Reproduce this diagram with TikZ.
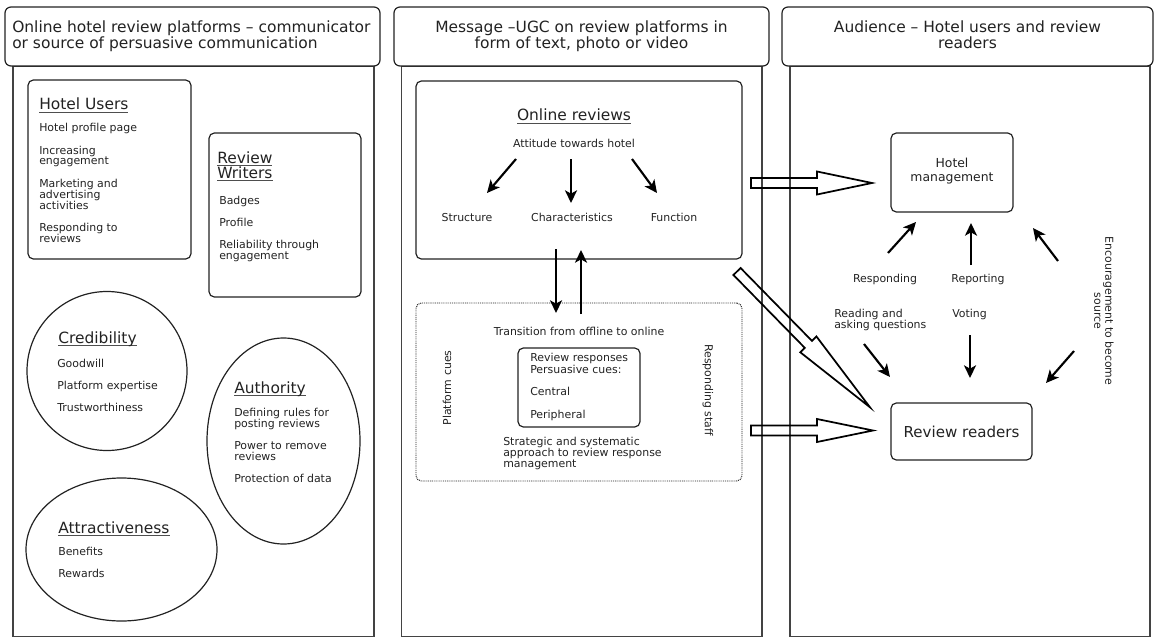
\documentclass[tikz,border=0pt]{standalone}
\usepackage{fontspec}
\setmainfont{DejaVu Sans}
\usetikzlibrary{arrows.meta,shapes.geometric,fit}
\definecolor{ink}{HTML}{222222}
\newcommand\myul[1]{\setbox0\hbox{#1}\rlap{\color{ink!80}\rule[-2.4pt]{\wd0}{0.75pt}}\box0}
\newcommand\hollowarrow[5]{%
  \draw[harrow, shift={(#1)}, rotate=#2] (0,-5) -- ({#3-#4},-5) -- ({#3-#4},-#5) -- (#3,0) -- ({#3-#4},#5) -- ({#3-#4},5) -- (0,5) -- cycle;}
\begin{document}
\begin{tikzpicture}[x=0.75pt,y=-0.75pt,
  every node/.style={text=ink},
  col/.style={draw=ink!85, line width=1.1pt},
  hdr/.style={draw=ink, line width=0.9pt, rounded corners=4.5pt, fill=white, inner sep=0pt},
  hdrtxt/.style={inner sep=0pt, font=\fontsize{11.6}{12}\selectfont},
  box/.style={draw=ink, line width=0.9pt, rounded corners=4pt, inner sep=0pt},
  dotbox/.style={draw=ink, line width=0.7pt, dash pattern=on 0.7pt off 0.7pt, rounded corners=4pt, inner sep=0pt},
  oval/.style={draw=ink, line width=0.9pt, ellipse, inner sep=0pt},
  ttl/.style={anchor=base west, inner sep=0pt, font=\fontsize{11.6}{11.25}\selectfont, align=left},
  itm/.style={anchor=base west, inner sep=0pt, font=\fontsize{8.2}{8.25}\selectfont, align=left},
  lbl/.style={anchor=base, inner sep=0pt, font=\fontsize{8.2}{8.25}\selectfont, align=center},
  rot/.style={inner sep=0pt, font=\fontsize{8.2}{8.25}\selectfont, align=center},
  conn/.style={draw=black, line width=1.6pt, -{Stealth[length=9.5pt,width=9pt,inset=2.5pt]}},
  harrow/.style={draw=black, line width=1.3pt, line join=miter}]
\useasboundingbox (0,0) rectangle (1155,638);

% ---------- column bodies ----------
\draw[col] (13,66) rectangle (374,636.5);
\draw[col] (401.5,66) rectangle (762,636.5);
\draw[col] (790,66) rectangle (1150,636.5);

% ---------- headers ----------
\node[hdr, fit={(5,7) (380,66)}] (h1) {};
\node[hdrtxt, anchor=base west, align=left] (h1t) at (12,49) {Online hotel review platforms -- communicator\\or source of persuasive communication};
\node[hdr, fit={(394,7) (769,66)}] (h2) {};
\node[hdrtxt, anchor=base, align=center] (h2t) at (581.5,49) {Message --UGC on review platforms in\\form of text, photo or video};
\node[hdr, fit={(782,7) (1153,66)}] (h3) {};
\node[hdrtxt, anchor=base, align=center] (h3t) at (967.5,49) {Audience -- Hotel users and review\\readers};

% ---------- column 1 ----------
\node[box, fit={(28,80) (191,259)}] (hu) {};
\node[ttl] (hut) at (39,110) {\myul{Hotel Users}};
\node[itm] (hu1) at (39,132) {Hotel profile page};
\node[itm] (hu2) at (39,165) {Increasing\\engagement};
\node[itm] (hu3) at (39,209) {Marketing and\\advertising\\activities};
\node[itm] (hu4) at (39,242) {Responding to\\reviews};

\node[box, fit={(209,133) (361,297)}] (rw) {};
\node[ttl] (rwt) at (217,178) {\myul{Review}\\\myul{Writers}};
\node[itm] (rw1) at (219,204) {Badges};
\node[itm] (rw2) at (219,226) {Profile};
\node[itm] (rw3) at (219,259) {Reliability through\\engagement};

\node[oval, minimum width=120pt, minimum height=119.25pt] (cr) at (107,371) {};
\node[ttl] (crt) at (58,343) {\myul{Credibility}};
\node[itm] (cr1) at (57,367) {Goodwill};
\node[itm] (cr2) at (57,389) {Platform expertise};
\node[itm] (cr3) at (57,411) {Trustworthiness};

\node[oval, minimum width=114.75pt, minimum height=154.5pt] (au) at (283.5,441) {};
\node[ttl] (aut) at (234,393) {\myul{Authority}};
\node[itm] (au1) at (234,427) {Defining rules for\\posting reviews};
\node[itm] (au2) at (234,460) {Power to remove\\reviews};
\node[itm] (au3) at (234,482) {Protection of data};

\node[oval, minimum width=143.25pt, minimum height=107.25pt] (at) at (121.5,549.5) {};
\node[ttl] (att) at (58,533) {\myul{Attractiveness}};
\node[itm] (at1) at (58,555) {Benefits};
\node[itm] (at2) at (58,577) {Rewards};

% ---------- column 2 ----------
\node[box, fit={(416,81) (742,259)}] (or) {};
\node[lbl, font=\fontsize{11.6}{12}\selectfont] (ort) at (574,121) {\myul{Online reviews}};
\node[lbl] (att2) at (574,147) {Attitude towards hotel};
\node[lbl] (st) at (467,221) {Structure};
\node[lbl] (ch) at (572,221) {Characteristics};
\node[lbl] (fn) at (674,221) {Function};
\coordinate (a1s) at (516,159); \coordinate (a1e) at (487,193);
\coordinate (a2s) at (571,159); \coordinate (a2e) at (571,203);
\coordinate (a3s) at (632,159); \coordinate (a3e) at (657,193);
\draw[conn] (a1s) -- (a1e);
\draw[conn] (a2s) -- (a2e);
\draw[conn] (a3s) -- (a3e);

\node[dotbox, fit={(416,303) (742,481)}] (pc) {};
\coordinate (d1s) at (556,249); \coordinate (d1e) at (556,313);
\coordinate (u1s) at (581,314); \coordinate (u1e) at (581,250);
\draw[conn] (d1s) -- (d1e);
\draw[conn] (u1s) -- (u1e);
\node[lbl] (tr) at (579,335) {Transition from offline to online};
\node[box, fit={(518,348) (640,427)}] (rr) {};
\node[itm, font=\fontsize{8.2}{7.6}\selectfont] (rr1) at (530,373) {Review responses\\Persuasive cues:};
\node[itm] (rr2) at (530,395) {Central};
\node[itm] (rr3) at (530,418) {Peripheral};
\node[rot, rotate=90] (plc) at (447,388) {Platform cues};
\node[rot, rotate=-90] (rs) at (708,390) {Responding staff};
\node[itm] (sa) at (503,467) {Strategic and systematic\\approach to review response\\management};

% ---------- column 3 ----------
\node[box, fit={(891,133) (1013,212)}] (hm) {};
\node[anchor=base, inner sep=0pt, font=\fontsize{9.3}{10}\selectfont, align=center] (hmt) at (952,181) {Hotel\\management};
\node[box, fit={(891,403) (1032,460)}] (rd) {};
\node[anchor=base, inner sep=0pt, font=\fontsize{11.3}{12}\selectfont] (rdt) at (961.5,437) {Review readers};

\coordinate (b1s) at (888,253); \coordinate (b1e) at (916,222);
\coordinate (b2s) at (971,265); \coordinate (b2e) at (971,223);
\coordinate (b3s) at (1058,261); \coordinate (b3e) at (1033,228);
\coordinate (b4s) at (864,344); \coordinate (b4e) at (890,377);
\coordinate (b5s) at (970,335); \coordinate (b5e) at (970,378);
\coordinate (b6s) at (1074,351); \coordinate (b6e) at (1046,383);
\draw[conn] (b1s) -- (b1e);
\draw[conn] (b2s) -- (b2e);
\draw[conn] (b3s) -- (b3e);
\draw[conn] (b4s) -- (b4e);
\draw[conn] (b5s) -- (b5e);
\draw[conn] (b6s) -- (b6e);

\node[lbl] (lr1) at (885,282) {Responding};
\node[lbl] (lr2) at (978,282) {Reporting};
\node[itm] (lr3) at (834,328) {Reading and\\asking questions};
\node[itm] (lr4) at (952,317) {Voting};
\node[rot, rotate=-90] (enc) at (1104,311) {Encouragement to become\\source};

% ---------- hollow arrows ----------
\coordinate (ht1) at (751,183);
\coordinate (ht2) at (751,430.5);
\coordinate (ht3) at (737,271.5);
\hollowarrow{ht1}{0}{121}{55}{11.5}
\hollowarrow{ht2}{0}{122}{56}{11.5}
\hollowarrow{ht3}{-45.6}{190}{88}{11.3}
\end{tikzpicture}
\end{document}
